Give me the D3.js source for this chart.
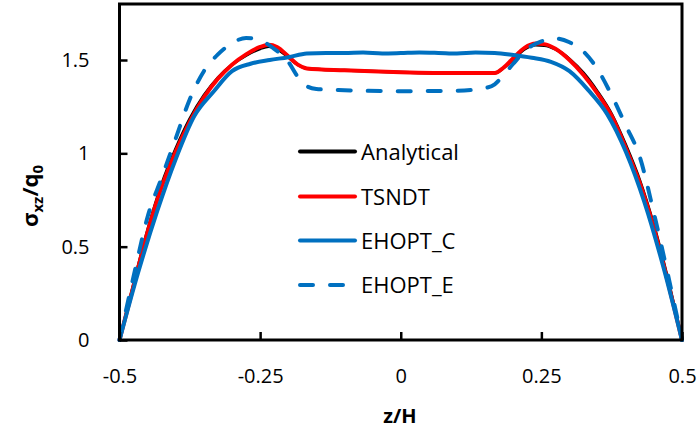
<!DOCTYPE html>
<html>
<head>
<meta charset="utf-8">
<script src="https://cdn.jsdelivr.net/npm/d3@7"></script>
<style>
  html, body { margin: 0; padding: 0; background: #fff; }
  svg { display: block; }
  text { font-family: "Open Sans", "Noto Sans", sans-serif; fill: #000; }
</style>
</head>
<body>
<svg id="chart" width="698" height="432"></svg>
<script>
// Through-thickness position z/H and normalised transverse shear stress
const zAnalytical = [-0.5,-0.475,-0.45,-0.425,-0.4,-0.375,-0.35,-0.325,-0.3,-0.275,-0.25,-0.235,-0.22,-0.2,-0.183,-0.167,-0.1,0,0.1,0.167,0.183,0.2,0.22,0.24,0.255,0.275,0.3,0.325,0.35,0.375,0.4,0.425,0.45,0.475,0.5];
const analytical = [0,0.30,0.59,0.835,1.025,1.185,1.31,1.405,1.475,1.525,1.56,1.572,1.56,1.515,1.475,1.455,1.445,1.435,1.43,1.43,1.458,1.505,1.558,1.58,1.578,1.558,1.505,1.43,1.33,1.21,1.045,0.855,0.615,0.325,0];
const tsndt = [0,0.29,0.58,0.82,1.01,1.17,1.30,1.40,1.475,1.53,1.57,1.582,1.57,1.52,1.475,1.455,1.445,1.435,1.43,1.43,1.46,1.51,1.565,1.588,1.585,1.56,1.50,1.42,1.32,1.20,1.03,0.84,0.60,0.31,0];

const zC = [-0.5,-0.467,-0.433,-0.4,-0.367,-0.333,-0.3,-0.267,-0.233,-0.2,-0.167,-0.133,-0.1,-0.067,-0.033,0,0.033,0.067,0.1,0.133,0.167,0.2,0.233,0.267,0.3,0.333,0.367,0.4,0.433,0.467,0.5];
const ehoptC = [0,0.36,0.69,0.97,1.20,1.33,1.44,1.48,1.50,1.515,1.535,1.538,1.537,1.54,1.535,1.537,1.54,1.538,1.535,1.54,1.538,1.527,1.512,1.49,1.44,1.34,1.21,1.01,0.74,0.39,0];

const zE = [-0.5,-0.475,-0.45,-0.425,-0.4,-0.375,-0.35,-0.325,-0.3,-0.275,-0.25,-0.225,-0.2,-0.183,-0.167,-0.15,-0.1,0,0.1,0.15,0.167,0.183,0.2,0.225,0.25,0.275,0.3,0.325,0.35,0.375,0.4,0.425,0.45,0.475,0.5];
const ehoptE = [0,0.34,0.66,0.87,1.08,1.29,1.44,1.53,1.59,1.618,1.605,1.56,1.49,1.41,1.36,1.345,1.338,1.333,1.335,1.35,1.37,1.42,1.48,1.56,1.60,1.615,1.595,1.545,1.45,1.31,1.15,0.98,0.68,0.35,0];

const xTicks = [-0.5,-0.25,0,0.25,0.5];
const xTickLabels = ["-0.5","-0.25","0","0.25","0.5"];
const yTicks = [0,0.5,1,1.5];
const yTickLabels = ["0","0.5","1","1.5"];

const seriesNames = ["Analytical","TSNDT","EHOPT_C","EHOPT_E"];
const seriesColors = ["#000000","#FF0000","#0070C0","#0070C0"];

const svg = d3.select("#chart");
const x = d3.scaleLinear().domain([-0.5, 0.5]).range([119.5, 682]);
const y = d3.scaleLinear().domain([0, 1.8]).range([340, 4]);

const series = [
  {z: zAnalytical, v: analytical, color: seriesColors[0], width: 3, dash: null},
  {z: zAnalytical, v: tsndt, color: seriesColors[1], width: 4, dash: null},
  {z: zC, v: ehoptC, color: seriesColors[2], width: 4, dash: null},
  {z: zE, v: ehoptE, color: seriesColors[3], width: 4, dash: "13,17"}
];

const line = d3.line()
  .x(d => x(d[0]))
  .y(d => y(d[1]))
  .curve(d3.curveMonotoneX);

series.forEach(s => {
  svg.append("path")
    .datum(s.z.map((z, i) => [z, s.v[i]]))
    .attr("d", line)
    .attr("fill", "none")
    .attr("stroke", s.color)
    .attr("stroke-width", s.width)
    .attr("stroke-linejoin", "round")
    .attr("stroke-linecap", "round")
    .attr("stroke-dasharray", s.dash);
});

// axes with inward ticks
const xAxis = d3.axisBottom(x).tickValues(xTicks).tickSize(-8).tickFormat((d, i) => xTickLabels[i]).tickPadding(29);
const yAxis = d3.axisLeft(y).tickValues(yTicks).tickSize(-8).tickFormat((d, i) => yTickLabels[i]).tickPadding(30);

const gx = svg.append("g").attr("transform", "translate(0,340)").call(xAxis);
const gy = svg.append("g").attr("transform", "translate(119.5,0)").call(yAxis);
[gx, gy].forEach(g => {
  g.select(".domain").remove();
  g.selectAll(".tick line").attr("stroke", "#000").attr("stroke-width", 2.5);
  g.selectAll(".tick text").attr("font-size", 20).attr("fill", "#000")
    .style("font-family", '"Open Sans", sans-serif');
});

// plot frame
svg.append("rect")
  .attr("x", x(-0.5)).attr("y", y(1.8))
  .attr("width", x(0.5) - x(-0.5)).attr("height", y(0) - y(1.8))
  .attr("fill", "none").attr("stroke", "#000").attr("stroke-width", 3);

// legend
const legendY = [151.5, 196.5, 240.5, 285];
seriesNames.forEach((name, i) => {
  const s = series[i];
  svg.append("line")
    .attr("x1", 300).attr("x2", s.dash ? 343 : 355)
    .attr("y1", legendY[i]).attr("y2", legendY[i])
    .attr("stroke", s.color).attr("stroke-width", 4)
    .attr("stroke-linecap", "round")
    .attr("stroke-dasharray", s.dash);
  svg.append("text")
    .attr("x", 361).attr("y", legendY[i] + 8)
    .attr("font-size", 22)
    .text(name);
});

// axis titles
svg.append("text")
  .attr("x", 400).attr("y", 423)
  .attr("text-anchor", "middle")
  .attr("font-size", 20).attr("font-weight", "bold")
  .text("z/H");

const yt = svg.append("text")
  .attr("transform", "translate(38,196) rotate(-90)")
  .attr("text-anchor", "middle")
  .attr("font-size", 22).attr("font-weight", "bold");
yt.append("tspan").text("σ");
yt.append("tspan").attr("font-size", 15).attr("dy", 5).text("xz");
yt.append("tspan").attr("dy", -5).text("/q");
yt.append("tspan").attr("font-size", 15).attr("dy", 5).text("0");
</script>
</body>
</html>
